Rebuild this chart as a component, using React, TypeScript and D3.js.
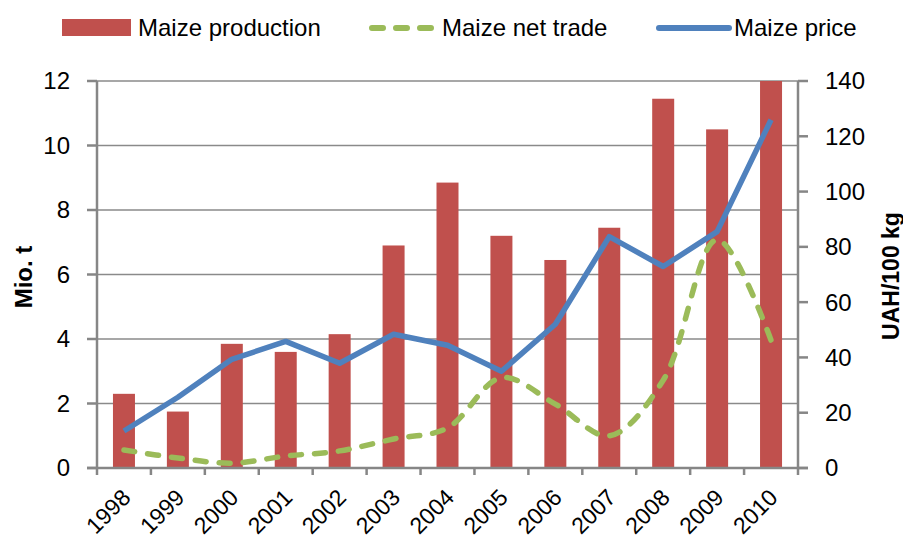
import React, { useEffect, useRef } from "react";
import * as d3 from "d3";

const years = ["1998", "1999", "2000", "2001", "2002", "2003", "2004", "2005", "2006", "2007", "2008", "2009", "2010"];
const production = [2.3, 1.75, 3.85, 3.6, 4.15, 6.9, 8.85, 7.2, 6.45, 7.45, 11.45, 10.5, 12.0];
const netTrade = [0.56, 0.31, 0.15, 0.37, 0.53, 0.9, 1.24, 2.8, 1.98, 1.0, 2.72, 7.08, 3.96];
const price = [13.4, 25.6, 39.3, 45.8, 37.9, 48.4, 44.4, 35.0, 52.0, 83.7, 72.9, 85.5, 126.0];
const leftTicks = [0, 2, 4, 6, 8, 10, 12];
const rightTicks = [0, 20, 40, 60, 80, 100, 120, 140];

const W = 903;
const H = 541;
const FONT = "'Liberation Sans', Arial, sans-serif";

export default function App() {
  const svgRef = useRef<SVGSVGElement | null>(null);

  useEffect(() => {
    const svg = d3.select(svgRef.current);
    svg.selectAll("*").remove();

    const left = 97, right = 798, top = 81, bottom = 468;

    const x = d3.scaleBand<string>().domain(years).range([left, right]);
    const yL = d3.scaleLinear().domain([0, 12]).range([bottom, top]);
    const yR = d3.scaleLinear().domain([0, 140]).range([bottom, top]);
    const cx = (d: string) => (x(d) as number) + x.bandwidth() / 2;

    // gridlines
    svg.append("g")
      .selectAll("line")
      .data(leftTicks.slice(1))
      .enter()
      .append("line")
      .attr("x1", left)
      .attr("x2", right)
      .attr("y1", (d) => yL(d))
      .attr("y2", (d) => yL(d))
      .attr("stroke", "#8a8a8a")
      .attr("stroke-width", 1.5);

    // bars
    const bw = 22;
    svg.append("g")
      .selectAll("rect")
      .data(years)
      .enter()
      .append("rect")
      .attr("x", (d) => cx(d) - bw / 2)
      .attr("width", bw)
      .attr("y", (d, i) => yL(production[i]))
      .attr("height", (d, i) => bottom - yL(production[i]))
      .attr("fill", "#C0504D");

    // axes
    const g = svg.append("g").attr("stroke", "#868686").attr("stroke-width", 2.5);
    g.append("line").attr("x1", left).attr("x2", left).attr("y1", top).attr("y2", bottom);
    g.append("line").attr("x1", right).attr("x2", right).attr("y1", top).attr("y2", bottom);
    g.append("line").attr("x1", left - 10).attr("x2", right + 10).attr("y1", bottom).attr("y2", bottom);
    leftTicks.forEach((t) => {
      g.append("line").attr("x1", left - 10).attr("x2", left).attr("y1", yL(t)).attr("y2", yL(t));
    });
    rightTicks.forEach((t) => {
      g.append("line").attr("x1", right).attr("x2", right + 10).attr("y1", yR(t)).attr("y2", yR(t));
    });
    years.forEach((d) => {
      const xx = x(d) as number;
      g.append("line").attr("x1", xx).attr("x2", xx).attr("y1", bottom).attr("y2", bottom + 7);
    });
    g.append("line").attr("x1", right).attr("x2", right).attr("y1", bottom).attr("y2", bottom + 7);

    // tick labels
    const txt = svg.append("g").attr("font-family", FONT).attr("font-size", 24).attr("fill", "#000");
    leftTicks.forEach((t) => {
      txt.append("text").attr("x", left - 27).attr("y", yL(t)).attr("dy", "0.35em")
        .attr("text-anchor", "end").text(String(t));
    });
    rightTicks.forEach((t) => {
      txt.append("text").attr("x", right + 27).attr("y", yR(t)).attr("dy", "0.35em")
        .attr("text-anchor", "start").text(String(t));
    });
    years.forEach((d) => {
      const px = cx(d) + 8, py = bottom + 31;
      txt.append("text")
        .attr("transform", `translate(${px},${py}) rotate(-45)`)
        .attr("text-anchor", "end")
        .attr("font-size", 23)
        .text(d);
    });

    // axis titles
    svg.append("text")
      .attr("transform", `translate(32,277) rotate(-90)`)
      .attr("text-anchor", "middle")
      .attr("font-family", FONT).attr("font-size", 24).attr("font-weight", "bold")
      .text("Mio. t");
    svg.append("text")
      .attr("transform", `translate(899,276) rotate(-90)`)
      .attr("text-anchor", "middle")
      .attr("font-family", FONT).attr("font-size", 23).attr("font-weight", "bold")
      .text("UAH/100 kg");

    // lines
    const tradeLine = d3.line<number>()
      .x((d, i) => cx(years[i]))
      .y((d) => yL(d))
      .curve(d3.curveCatmullRom.alpha(0.5));
    svg.append("path")
      .datum(netTrade)
      .attr("d", tradeLine)
      .attr("fill", "none")
      .attr("stroke", "#9BBB59")
      .attr("stroke-width", 5.5)
      .attr("stroke-linecap", "round")
      .attr("stroke-dasharray", "11 13");

    const priceLine = d3.line<number>()
      .x((d, i) => cx(years[i]))
      .y((d) => yR(d));
    svg.append("path")
      .datum(price)
      .attr("d", priceLine)
      .attr("fill", "none")
      .attr("stroke", "#4F81BD")
      .attr("stroke-width", 5.5)
      .attr("stroke-linejoin", "round");

    // legend
    const lg = svg.append("g").attr("font-family", FONT).attr("font-size", 24);
    lg.append("rect").attr("x", 62).attr("y", 19).attr("width", 69).attr("height", 17).attr("fill", "#C0504D");
    lg.append("text").attr("x", 138).attr("y", 28).attr("dy", "0.35em").text("Maize production");
    lg.append("line").attr("x1", 372).attr("x2", 431).attr("y1", 28).attr("y2", 28)
      .attr("stroke", "#9BBB59").attr("stroke-width", 6).attr("stroke-linecap", "round")
      .attr("stroke-dasharray", "11 13");
    lg.append("text").attr("x", 442).attr("y", 28).attr("dy", "0.35em").text("Maize net trade");
    lg.append("line").attr("x1", 659).attr("x2", 729).attr("y1", 28).attr("y2", 28)
      .attr("stroke", "#4F81BD").attr("stroke-width", 6).attr("stroke-linecap", "round");
    lg.append("text").attr("x", 734).attr("y", 28).attr("dy", "0.35em").text("Maize price");
  }, []);

  return (
    <svg
      ref={svgRef}
      width={W}
      height={H}
      viewBox={`0 0 ${W} ${H}`}
      style={{ display: "block", position: "absolute", left: 0, top: 0, background: "#fff" }}
    />
  );
}
